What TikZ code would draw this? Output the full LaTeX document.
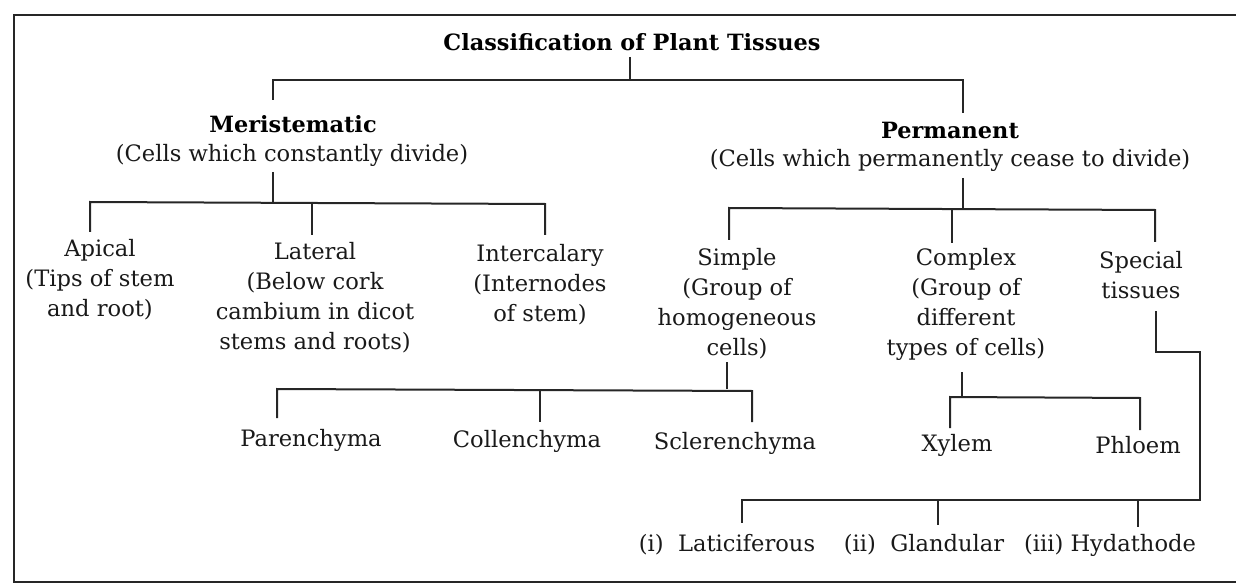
\documentclass[tikz,border=0pt]{standalone}
\usepackage{fontspec}
\setmainfont{DejaVu Serif}
\begin{document}
\begin{tikzpicture}[x=1pt,y=-1pt,
  txt/.style={align=center, inner sep=0pt, text=black!90, font=\fontsize{22.6}{30}\selectfont},
  hd/.style={align=center, inner sep=0pt, text=black, font=\fontsize{22.4}{30}\selectfont\bfseries},
  conn/.style={draw=black!85, line width=2pt}]
\useasboundingbox (0,0) rectangle (1236,585);
\draw[conn] (1240,15) -- (14,15) -- (14,582) -- (1240,582);

% texts
\node[hd] (title) at (632,42) {Classification of Plant Tissues};
\node[hd] (mer) at (293,124) {Meristematic};
\node[txt] (merd) at (292,155) {(Cells which constantly divide)};
\node[hd] (per) at (950,130) {Permanent};
\node[txt] (perd) at (950,160) {(Cells which permanently cease to divide)};

\node[txt] (api) at (100,280) {Apical\\(Tips of stem\\and root)};
\node[txt] (lat) at (315,298) {Lateral\\(Below cork\\cambium in dicot\\stems and roots)};
\node[txt] (int) at (540,285) {Intercalary\\(Internodes\\of stem)};

\node[txt] (sim) at (737,304) {Simple\\(Group of\\homogeneous\\cells)};
\node[txt] (com) at (966,304) {Complex\\(Group of\\different\\types of cells)};
\node[txt] (spe) at (1141,275) {Special\\tissues};

\node[txt] (par) at (311,440) {Parenchyma};
\node[txt] (col) at (527,441) {Collenchyma};
\node[txt] (scl) at (735,443) {Sclerenchyma};
\node[txt] (xyl) at (957,445) {Xylem};
\node[txt] (phl) at (1138,445) {Phloem};

\node[txt] (lac) at (727,545) {(i)\ \ Laticiferous};
\node[txt] (gla) at (924,545) {(ii)\ \ Glandular};
\node[txt] (hyd) at (1110,545) {(iii)\ Hydathode};

% junction coordinates
\coordinate (t0) at (630,57);
\coordinate (t1) at (630,80);
\coordinate (tl) at (273,80);
\coordinate (tr) at (963,80);
\coordinate (merin) at (273,100);
\coordinate (perin) at (963,113);

\coordinate (m0) at (273,172);
\coordinate (m1) at (273,202);
\coordinate (ma) at (90,202);
\coordinate (mb) at (312,202);
\coordinate (mc) at (545,204);
\coordinate (apin) at (90,232);
\coordinate (latin) at (312,235);
\coordinate (intin) at (545,235);

\coordinate (p0) at (963,178);
\coordinate (p1) at (963,208);
\coordinate (pa) at (729,208);
\coordinate (pb) at (952,209);
\coordinate (pc) at (1155,210);
\coordinate (simin) at (729,240);
\coordinate (comin) at (952,243);
\coordinate (spein) at (1155,242);

\coordinate (s0) at (727,362);
\coordinate (s1) at (727,389);
\coordinate (sa) at (277,389);
\coordinate (sb) at (540,390);
\coordinate (sc) at (752,391);
\coordinate (parin) at (277,418);
\coordinate (colin) at (540,422);
\coordinate (sclin) at (752,422);

\coordinate (c0) at (962,372);
\coordinate (c1) at (962,397);
\coordinate (ca) at (950,397);
\coordinate (cb) at (1140,398);
\coordinate (xylin) at (950,428);
\coordinate (phlin) at (1140,430);

\coordinate (e0) at (1156,311);
\coordinate (e1) at (1156,352);
\coordinate (e2) at (1200,352);
\coordinate (e3) at (1200,500);
\coordinate (ea) at (742,500);
\coordinate (eb) at (938,500);
\coordinate (ec) at (1138,501);
\coordinate (lacin) at (742,523);
\coordinate (glain) at (938,525);
\coordinate (hydin) at (1138,527);

% connectors
\draw[conn] (t0) -- (t1);
\draw[conn] (merin) -- (tl) -- (tr) -- (perin);

\draw[conn] (m0) -- (m1);
\draw[conn] (apin) -- (ma) -- (mc) -- (intin);
\draw[conn] (mb) -- (latin);

\draw[conn] (p0) -- (p1);
\draw[conn] (simin) -- (pa) -- (pc) -- (spein);
\draw[conn] (pb) -- (comin);

\draw[conn] (s0) -- (s1);
\draw[conn] (parin) -- (sa) -- (sc) -- (sclin);
\draw[conn] (sb) -- (colin);

\draw[conn] (c0) -- (c1);
\draw[conn] (xylin) -- (ca) -- (cb) -- (phlin);

\draw[conn] (e0) -- (e1) -- (e2) -- (e3) -- (ea) -- (lacin);
\draw[conn] (eb) -- (glain);
\draw[conn] (ec) -- (hydin);
\end{tikzpicture}
\end{document}
